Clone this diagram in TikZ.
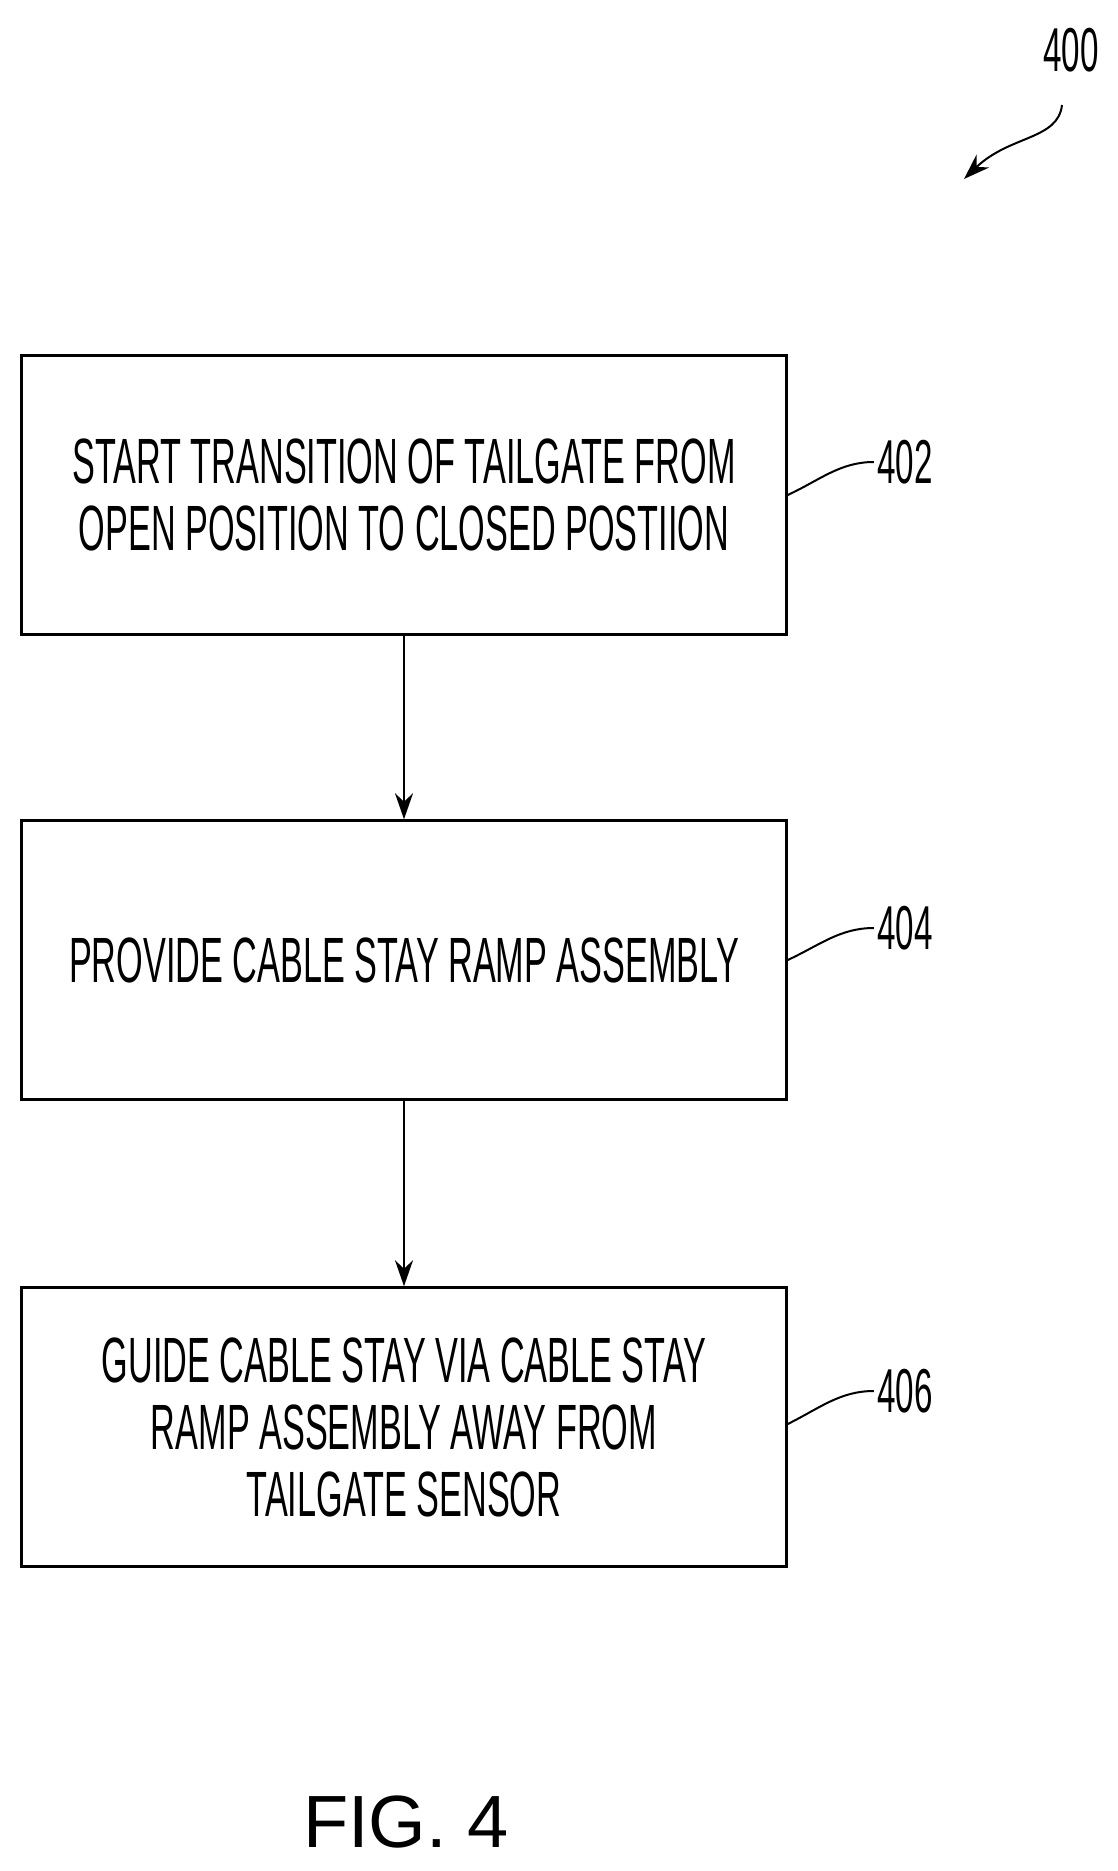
\documentclass[tikz,border=0pt]{standalone}
\usepackage{fontspec}
\setmainfont{Liberation Sans}
\usetikzlibrary{arrows.meta,decorations.pathmorphing}
\newcommand{\nar}[1]{\scalebox{0.535}[1]{#1}}
\begin{document}
\begin{tikzpicture}[x=1pt,y=-1pt,
  box/.style={draw,line width=2.5pt,minimum width=765pt,minimum height=279pt,align=center,font=\fontsize{64}{67}\selectfont},
  lbl/.style={font=\fontsize{62}{70}\selectfont},
  arr/.style={line width=2pt,-{Stealth[length=26pt,width=18pt]}}]
\useasboundingbox (0,0) rectangle (1118,1871);
\node[box] (b1) at (404,495) {\nar{START TRANSITION OF TAILGATE FROM}\\\nar{OPEN POSITION TO CLOSED POSTIION}};
\node[box] (b2) at (404,960) {\nar{PROVIDE CABLE STAY RAMP ASSEMBLY}};
\node[box] (b3) at (404,1427) {\nar{GUIDE CABLE STAY VIA CABLE STAY}\\\nar{RAMP ASSEMBLY AWAY FROM}\\\nar{TAILGATE SENSOR}};
\draw[arr] (b1) -- (b2);
\draw[arr] (b2) -- (b3);
\node[lbl] (l402) at (905,462) {\nar{402}};
\node[lbl] (l404) at (905,928) {\nar{404}};
\node[lbl] (l406) at (905,1391) {\nar{406}};
\draw[line width=2pt] (b1.east |- 0,495) .. controls (820,480) and (840,462) .. (l402.west);
\draw[line width=2pt] (b2.east |- 0,960) .. controls (820,945) and (840,928) .. (l404.west);
\draw[line width=2pt] (b3.east |- 0,1424) .. controls (820,1408) and (840,1391) .. (l406.west);
\node[lbl] (l400) at (1071,50) {\nar{400}};
\coordinate (t400) at (964,179);
\draw[arr] (1062,105) .. controls (1058,140) and (1010,135) .. (t400);
\node[font=\fontsize{74}{80}\selectfont] (fig) at (406,1822) {FIG. 4};
\end{tikzpicture}
\end{document}
